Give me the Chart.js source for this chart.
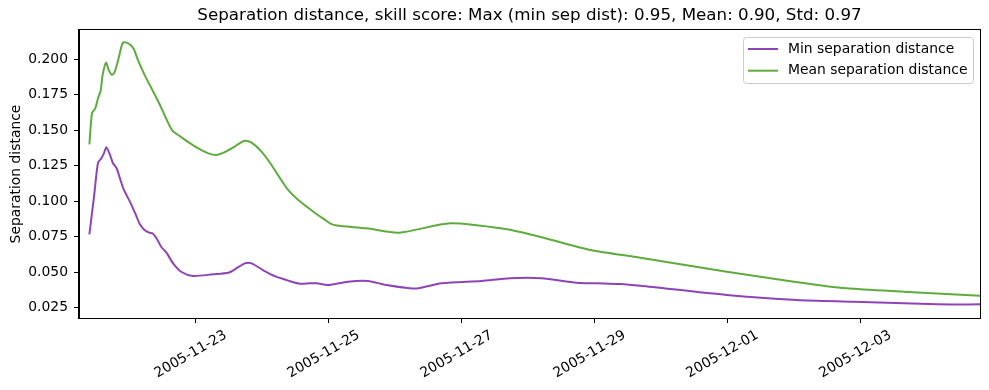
<!DOCTYPE html>
<html>
<head>
<meta charset="utf-8">
<style>
  html, body { margin: 0; padding: 0; background: #fff; }
  #wrap { width: 989px; height: 390px; }
</style>
<script src="https://cdn.jsdelivr.net/npm/chart.js@4/dist/chart.umd.min.js"></script>
</head>
<body>
<div id="wrap"><canvas id="grafico" width="989" height="390"></canvas></div>
<script>
// time axis in days since 2005-11-21 00:00
const minDays = [0.40, 0.47, 0.53, 0.58, 0.62, 0.655, 0.705, 0.755, 0.81, 0.86, 0.92, 1.01, 1.10, 1.16, 1.23, 1.30, 1.35, 1.41, 1.48, 1.56, 1.66, 1.78, 1.96, 2.26, 2.49, 2.59, 2.74, 2.84, 3.01, 3.21, 3.41, 3.57, 3.72, 3.82, 3.99, 4.29, 4.59, 4.87, 5.22, 5.35, 5.70, 6.30, 6.73, 7.20, 7.73, 8.03, 8.38, 8.69, 9.99, 11.05, 11.90, 13.16, 13.80];
const minValues = [0.0767, 0.1032, 0.1271, 0.1302, 0.1338, 0.1380, 0.1333, 0.1267, 0.1232, 0.1161, 0.1079, 0.0997, 0.0903, 0.0837, 0.0797, 0.0778, 0.0774, 0.0739, 0.0679, 0.0637, 0.0562, 0.0503, 0.0473, 0.0485, 0.0496, 0.0520, 0.0562, 0.0562, 0.0515, 0.0468, 0.0438, 0.0418, 0.0421, 0.0421, 0.0409, 0.0433, 0.0438, 0.0409, 0.0386, 0.0386, 0.0421, 0.0438, 0.0457, 0.0457, 0.0426, 0.0421, 0.0416, 0.0404, 0.0339, 0.0304, 0.0292, 0.0273, 0.0273];

const meanDays = [0.40, 0.44, 0.49, 0.53, 0.57, 0.60, 0.65, 0.69, 0.74, 0.78, 0.84, 0.90, 0.96, 1.02, 1.07, 1.13, 1.23, 1.33, 1.45, 1.56, 1.65, 1.77, 1.94, 2.06, 2.19, 2.31, 2.42, 2.56, 2.66, 2.74, 2.84, 2.99, 3.14, 3.27, 3.39, 3.57, 3.77, 3.95, 4.02, 4.12, 4.57, 5.06, 5.83, 6.68, 7.13, 7.94, 8.69, 9.99, 11.00, 11.79, 12.65, 13.80];
const meanValues = [0.140, 0.162, 0.1655, 0.1725, 0.178, 0.189, 0.1976, 0.1925, 0.189, 0.191, 0.2007, 0.2113, 0.2117, 0.210, 0.207, 0.1995, 0.189, 0.180, 0.169, 0.1577, 0.1497, 0.1455, 0.140, 0.1366, 0.1337, 0.1326, 0.1342, 0.1377, 0.1408, 0.1426, 0.1412, 0.1349, 0.1255, 0.1161, 0.1079, 0.0997, 0.0926, 0.0867, 0.0844, 0.0828, 0.0809, 0.0778, 0.0844, 0.0802, 0.0755, 0.0656, 0.0602, 0.0503, 0.0433, 0.0386, 0.0362, 0.0334];

const tickDays = [2, 4, 6, 8, 10, 12];
const tickLabels = ['2005-11-23', '2005-11-25', '2005-11-27', '2005-11-29', '2005-12-01', '2005-12-03'];
const yTicks = [0.025, 0.050, 0.075, 0.100, 0.125, 0.150, 0.175, 0.200];

const titulo = 'Separation distance, skill score: Max (min sep dist): 0.95, Mean: 0.90, Std: 0.97';
const FONT = 'DejaVu Sans';

function pares(xs, ys) {
  return xs.map((x, i) => ({ x: x, y: ys[i] }));
}

// frame, title and legend drawn like matplotlib
const molduraPlugin = {
  id: 'moldura',
  afterDraw(chart) {
    const { ctx, chartArea: a } = chart;
    ctx.save();
    ctx.strokeStyle = '#000';
    ctx.lineWidth = 1;
    ctx.strokeRect(Math.round(a.left) - 0.5, Math.round(a.top) - 0.5, Math.round(a.right - a.left) + 1, Math.round(a.bottom - a.top) + 1);

    ctx.fillStyle = '#000';
    ctx.font = '16.7px "' + FONT + '"';
    ctx.textAlign = 'center';
    ctx.textBaseline = 'middle';
    ctx.fillText(titulo, (a.left + a.right) / 2, 16);

    // legend box
    const bx = 743.5, by = 37.5, bw = 230, bh = 46;
    ctx.beginPath();
    ctx.roundRect(bx, by, bw, bh, 3);
    ctx.fillStyle = 'rgba(255,255,255,0.8)';
    ctx.fill();
    ctx.strokeStyle = '#cccccc';
    ctx.stroke();
    ctx.font = '13.9px "' + FONT + '"';
    ctx.textAlign = 'left';
    chart.data.datasets.forEach((ds, i) => {
      const y = 49 + i * 21.7;
      ctx.strokeStyle = ds.borderColor;
      ctx.lineWidth = 2;
      ctx.beginPath();
      ctx.moveTo(748, y);
      ctx.lineTo(778, y);
      ctx.stroke();
      ctx.fillStyle = '#000';
      ctx.fillText(ds.label, 788, y);
    });
    ctx.restore();
  }
};

new Chart(document.getElementById('grafico'), {
  type: 'line',
  data: {
    datasets: [
      {
        label: 'Min separation distance',
        data: pares(minDays, minValues),
        borderColor: '#8e44b5',
        borderWidth: 2,
        pointRadius: 0,
        tension: 0.25,
        fill: false
      },
      {
        label: 'Mean separation distance',
        data: pares(meanDays, meanValues),
        borderColor: '#5fab3e',
        borderWidth: 2,
        pointRadius: 0,
        tension: 0.25,
        fill: false
      }
    ]
  },
  options: {
    responsive: false,
    animation: false,
    layout: { padding: { left: 0, right: 9, top: 30, bottom: 0 } },
    plugins: {
      legend: { display: false },
      title: { display: false },
      tooltip: { enabled: false }
    },
    scales: {
      x: {
        type: 'linear',
        min: 0.244,
        max: 13.80,
        afterBuildTicks(scale) {
          scale.ticks = tickDays.map(v => ({ value: v }));
        },
        afterFit(scale) { scale.height = 72; },
        ticks: {
          autoSkip: false,
          minRotation: 30,
          maxRotation: 30,
          padding: 4,
          labelOffset: 30,
          color: '#000',
          font: { family: FONT, size: 13.9 },
          callback(value) {
            const i = tickDays.indexOf(value);
            return i >= 0 ? tickLabels[i] : '';
          }
        },
        grid: { drawOnChartArea: false, tickLength: 5, color: '#000' },
        border: { display: true, color: '#000' }
      },
      y: {
        min: 0.0177,
        max: 0.2206,
        afterBuildTicks(scale) {
          scale.ticks = yTicks.map(v => ({ value: v }));
        },
        afterFit(scale) { scale.width = 79; },
        ticks: {
          padding: 6,
          color: '#000',
          font: { family: FONT, size: 13.9 },
          callback: (value) => value.toFixed(3)
        },
        grid: { drawOnChartArea: false, tickLength: 5, color: '#000' },
        border: { display: true, color: '#000' },
        title: {
          display: true,
          text: 'Separation distance',
          color: '#000',
          font: { family: FONT, size: 13.9 },
          padding: { top: 8, bottom: 4 }
        }
      }
    }
  },
  plugins: [molduraPlugin]
});
</script>
</body>
</html>
